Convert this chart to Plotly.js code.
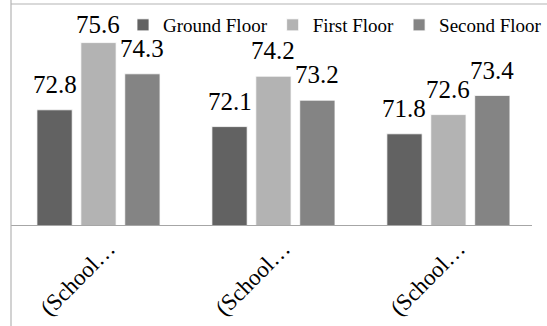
<!DOCTYPE html>
<html>
<head>
<meta charset="utf-8">
<script src="https://cdn.plot.ly/plotly-3.0.1.min.js"></script>
<style>
  html, body { margin: 0; padding: 0; background: #fff; overflow: hidden; }
  #chart { width: 547px; height: 326px; }
  #fontwarm { position: absolute; left: 200px; top: 300px; font-family: 'Liberation Serif'; font-size: 11px; color: #ffffff; pointer-events: none; }
</style>
</head>
<body>
<div id="chart"></div>
<div id="fontwarm">.</div>
<script>
// ---- data ----
const categories = ['School 1', 'School 2', 'School 3'];
const tickLabels = ['(School…', '(School…', '(School…'];
const seriesNames = ['Ground Floor', 'First Floor', 'Second Floor'];
const groundFloor = [72.8, 72.1, 71.8];
const firstFloor = [75.6, 74.2, 72.6];
const secondFloor = [74.3, 73.2, 73.4];

// ---- styles ----
const barColors = ['#626262', '#b3b3b3', '#848484'];
const seriesValues = [groundFloor, firstFloor, secondFloor];
const serifFamily = 'Liberation Serif';
const chartW = 547, chartH = 326;
const chartMargin = { l: 11, r: 0, t: 33, b: 101 };
const yRange = [68, 76];
const catPx = 180;
const plotW = chartW - chartMargin.l - chartMargin.r;
const plotH = chartH - chartMargin.t - chartMargin.b;
const barGap = 0.247;
const slotW = (1 - barGap) / seriesValues.length;
const pxPerUnit = plotH / (yRange[1] - yRange[0]);

const traces = seriesValues.map((vals, i) => ({
  type: 'bar',
  name: seriesNames[i],
  x: categories,
  y: vals,
  marker: { color: barColors[i], line: { color: '#ffffff', width: 0.8 } }
}));

// value labels above bars (kept inside the chart when near the top)
const labelGap = 17.3;
const baseOff = 7.4;
const annotations = [];
seriesValues.forEach((vals, i) => {
  vals.forEach((v, j) => {
    const barTopFromPlotTop = (yRange[1] - v) * pxPerUnit;
    let gap = labelGap;
    if (barTopFromPlotTop - labelGap < 0) gap = barTopFromPlotTop;
    annotations.push({
      x: j + (i - 1) * slotW, y: v, xref: 'x', yref: 'y',
      text: v.toFixed(1), showarrow: false,
      yanchor: 'bottom', xanchor: 'center',
      yshift: gap - baseOff,
      font: { family: serifFamily, size: 25, color: '#000000' }
    });
  });
});

const borderColor = '#b4b4b4';
const shapes = [
  { type: 'line', xref: 'paper', yref: 'paper', x0: 0, x1: 0,
    y0: (chartMargin.b - chartH) / plotH, y1: 1 + chartMargin.t / plotH,
    line: { color: borderColor, width: 1.2 } },
  { type: 'line', xref: 'paper', yref: 'paper', x0: 0, x1: 1.05,
    y0: 1 + (chartMargin.t - 4) / plotH, y1: 1 + (chartMargin.t - 4) / plotH,
    line: { color: borderColor, width: 1.2 } }
];

const layout = {
  width: chartW, height: chartH,
  margin: chartMargin,
  paper_bgcolor: '#ffffff', plot_bgcolor: '#ffffff',
  barmode: 'group', bargap: barGap, bargroupgap: 0.197,
  showlegend: true,
  legend: {
    orientation: 'h', x: 0.215, xanchor: 'left',
    y: 1 + (chartMargin.t - 6) / plotH, yanchor: 'top',
    font: { family: serifFamily, size: 19, color: '#000000' },
    bgcolor: 'rgba(0,0,0,0)'
  },
  xaxis: {
    type: 'category',
    range: [-0.5, -0.5 + plotW / catPx],
    tickmode: 'array', tickvals: categories, ticktext: tickLabels,
    tickangle: -45,
    ticklabelshift: 10,
    tickfont: { family: serifFamily, size: 23, color: '#000000' },
    showline: true, linecolor: '#a6a6a6', linewidth: 1,
    ticks: '', showgrid: false, zeroline: false
  },
  yaxis: { range: yRange, visible: false, showgrid: false, zeroline: false },
  annotations: annotations,
  shapes: shapes
};

Plotly.newPlot('chart', traces, layout, { displayModeBar: false, staticPlot: true }).then(() => {
  const t = document.querySelector('.legendtext');
  const a = document.querySelector('.annotation-text');
  const info = (t ? getComputedStyle(t).fontFamily : '') + (a ? a.getAttribute('style') : '');
  document.getElementById('fontwarm').textContent = info.length ? '.' : ' ';
});
</script>
</body>
</html>
